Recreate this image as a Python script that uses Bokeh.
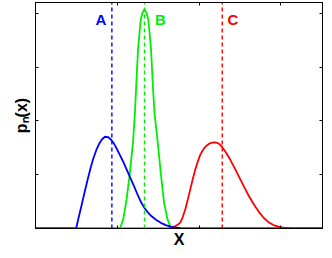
from bokeh.plotting import figure
from bokeh.models import ColumnDataSource, LinearAxis, Range1d, FixedTicker
from bokeh.core.properties import value
from bokeh.embed import file_html
from bokeh.resources import INLINE

# ---- data ----
blue_x = [0.0, 0.497, 0.527, 0.563, 0.599, 0.635, 0.671, 0.707, 0.743, 0.778, 0.814,
          0.850, 0.886, 0.922, 0.958, 0.994, 1.030, 1.074, 1.114, 1.153, 1.198,
          1.254, 1.293, 1.333, 1.374, 1.413, 1.473, 1.533, 1.593, 1.673, 1.772,
          1.892, 3.51]
blue_y = [0.0, 0.0, 0.20, 0.427, 0.664, 0.891, 1.109, 1.30, 1.455, 1.573, 1.658,
          1.705, 1.70, 1.655, 1.582, 1.482, 1.373, 1.236, 1.10, 0.964, 0.809,
          0.609, 0.482, 0.382, 0.30, 0.236, 0.164, 0.105, 0.064, 0.027, 0.007,
          0.0, 0.0]

green_x = [0.0, 1.034, 1.074, 1.114, 1.153, 1.194, 1.216, 1.234, 1.254, 1.286, 1.309,
           1.333, 1.357, 1.381, 1.413, 1.433, 1.455, 1.493, 1.533, 1.572, 1.613,
           1.653, 1.69, 3.51]
green_y = [0.0, 0.0, 0.18, 0.54, 1.02, 1.63, 2.15, 2.72, 3.33, 3.87, 4.01,
           4.07, 4.01, 3.87, 3.33, 2.72, 2.15, 1.63, 1.02, 0.48, 0.18,
           0.02, 0.0, 0.0]

red_x = [0.0, 1.617, 1.665, 1.713, 1.743, 1.772, 1.802, 1.832, 1.862, 1.892, 1.922,
         1.952, 1.982, 2.012, 2.042, 2.072, 2.102, 2.132, 2.162, 2.192, 2.222,
         2.251, 2.281, 2.311, 2.371, 2.431, 2.491, 2.551, 2.611, 2.671, 2.731,
         2.790, 2.850, 2.910, 2.970, 3.030, 3.150, 3.27, 3.51]
red_y = [0.0, 0.0, 0.02, 0.045, 0.073, 0.115, 0.218, 0.358, 0.536, 0.722, 0.909,
         1.085, 1.231, 1.358, 1.445, 1.509, 1.553, 1.582, 1.595, 1.60, 1.593,
         1.567, 1.516, 1.455, 1.309, 1.136, 0.955, 0.773, 0.600, 0.445, 0.309,
         0.200, 0.118, 0.064, 0.033, 0.015, 0.004, 0.0, 0.0]

marker_names = ["A", "B", "C"]
marker_x = [0.934, 1.333, 2.284]
marker_colors = ["#0000ff", "#00ee00", "#ff0000"]
label_x = [0.80, 1.527, 2.413]
label_y = [3.89, 3.89, 3.89]

x_ticks = [0, 1, 2, 3]
y_ticks = [0, 1, 2, 3, 4]
x_max = 3.51
y_max = 4.2

# ---- figure ----
p = figure(width=324, height=250, output_backend="svg", toolbar_location=None,
           x_range=Range1d(0, x_max), y_range=Range1d(0, y_max),
           min_border_left=35, min_border_right=2, min_border_top=2, min_border_bottom=19)
p.background_fill_color = "white"
p.border_fill_color = "white"
p.outline_line_color = "black"
p.outline_line_width = 1
p.grid.visible = False

bottom_ax = p.xaxis[0]
left_ax = p.yaxis[0]
bottom_ax.ticker = FixedTicker(ticks=x_ticks)
left_ax.ticker = FixedTicker(ticks=y_ticks)

top_ax = LinearAxis(ticker=FixedTicker(ticks=x_ticks))
right_ax = LinearAxis(ticker=FixedTicker(ticks=y_ticks))
p.add_layout(top_ax, "above")
p.add_layout(right_ax, "right")

for ax in [bottom_ax, left_ax, top_ax, right_ax]:
    ax.major_tick_in = 3
    ax.major_tick_out = 0
    ax.minor_tick_line_color = None
    ax.major_label_text_font_size = "0px"
    ax.major_label_text_color = None
    ax.major_label_standoff = 0
    ax.axis_line_color = "black"
    ax.major_tick_line_color = "black"

bottom_ax.axis_label = "X"
left_ax.axis_label = "p\u2099(x)"
for ax in [bottom_ax, left_ax]:
    ax.axis_label_text_font = "Liberation Sans"
    ax.axis_label_text_font_style = "bold"
    ax.axis_label_text_font_size = "16px"
    ax.axis_label_text_color = "black"
bottom_ax.axis_label_standoff = 2
left_ax.axis_label_standoff = 6

# curves
p.line(red_x, red_y, line_color="#ff0000", line_width=1.8)
p.line(green_x, green_y, line_color="#00ee00", line_width=1.8)
p.line(blue_x, blue_y, line_color="#0000ff", line_width=1.8)

# dashed markers
seg = ColumnDataSource(dict(x=marker_x, y0=[0] * 3, y1=[y_max] * 3, c=marker_colors))
p.segment(x0="x", y0="y0", x1="x", y1="y1", source=seg, line_color="c",
          line_dash="4 3", line_width=1.4)

lab = ColumnDataSource(dict(x=label_x, y=label_y, t=marker_names, c=marker_colors))
p.text(x="x", y="y", text="t", source=lab, text_color="c", text_align="center",
       text_baseline="middle", text_font=value("Liberation Sans"),
       text_font_style="bold", text_font_size="15px")

open("out.html", "w").write(file_html(p, INLINE))
